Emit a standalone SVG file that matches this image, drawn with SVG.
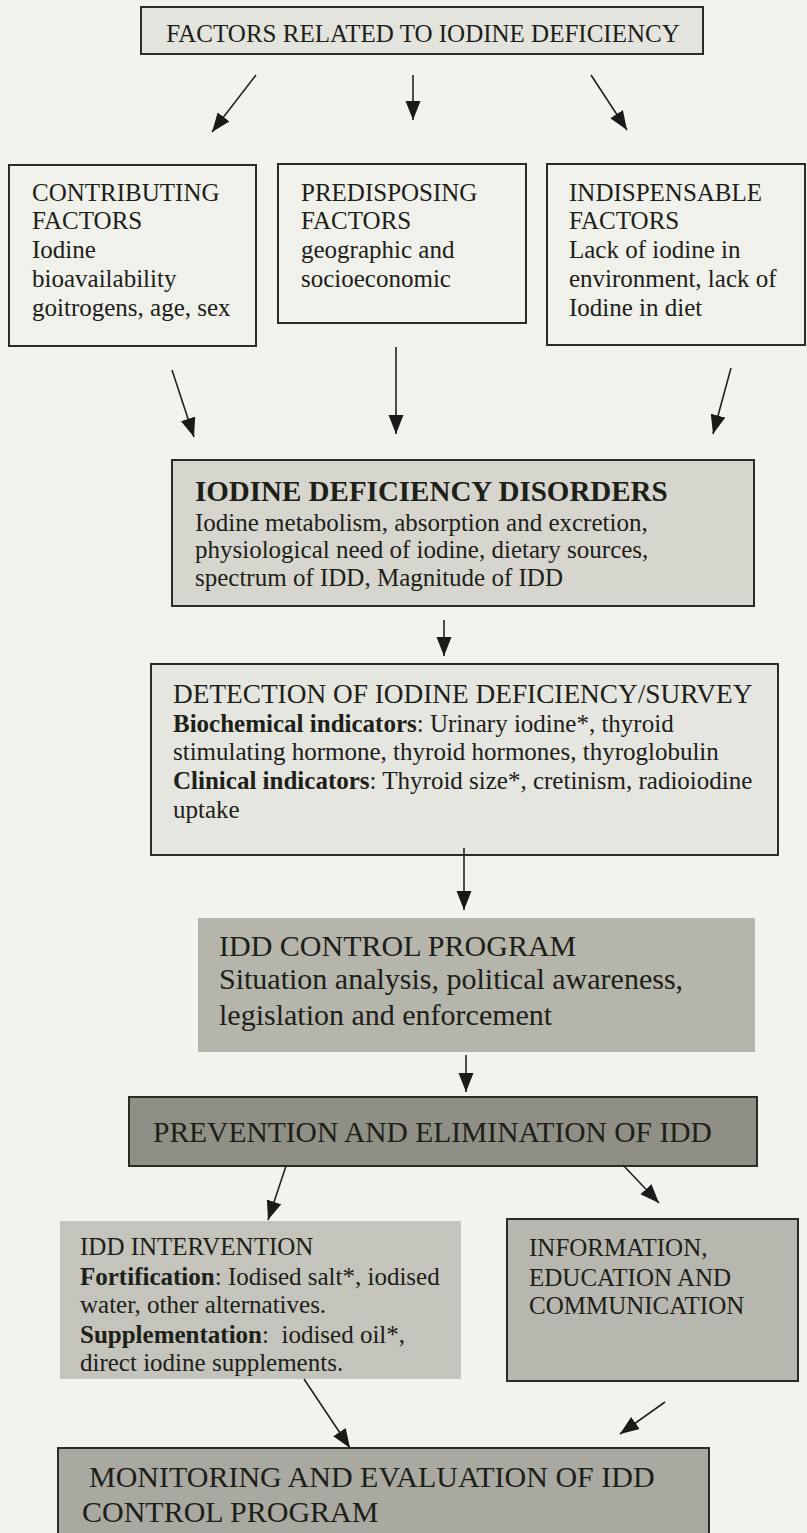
<svg xmlns="http://www.w3.org/2000/svg" width="807" height="1533" viewBox="0 0 807 1533">
<style>
text{font-family:"Liberation Serif","Times New Roman",serif;fill:#1c2018;font-size:25px}
.t30{font-size:30px}
.b{font-weight:bold}
.box{stroke:#2a2c26;stroke-width:2}
.conn line{stroke:#222;stroke-width:1.6;marker-end:url(#ah)}
</style>
<defs>
<marker id="ah" markerUnits="userSpaceOnUse" markerWidth="20" markerHeight="16" refX="19" refY="7.5" orient="auto">
<path d="M0,0 L19,7.5 L0,15 z" fill="#1a1a1a"/>
</marker>
<clipPath id="cl"><rect x="60" y="1221" width="401" height="158"/></clipPath>
</defs>
<rect width="807" height="1533" fill="#f3f3ee"/>

<g id="top">
<rect class="box" x="141" y="7" width="562" height="47" fill="#e4e4de"/>
<text x="423" y="42" text-anchor="middle">FACTORS RELATED TO IODINE DEFICIENCY</text>
</g>

<g id="contributing">
<rect class="box" x="9" y="165" width="247" height="181" fill="#f1f1eb"/>
<text x="32" y="201">CONTRIBUTING</text>
<text x="32" y="229">FACTORS</text>
<text x="32" y="258">Iodine</text>
<text x="32" y="287">bioavailability</text>
<text x="32" y="316">goitrogens, age, sex</text>
</g>

<g id="predisposing">
<rect class="box" x="278" y="164" width="248" height="159" fill="#f1f1eb"/>
<text x="301" y="201">PREDISPOSING</text>
<text x="301" y="229">FACTORS</text>
<text x="301" y="258">geographic and</text>
<text x="301" y="287">socioeconomic</text>
</g>

<g id="indispensable">
<rect class="box" x="547" y="164" width="258" height="181" fill="#f1f1eb"/>
<text x="569" y="201">INDISPENSABLE</text>
<text x="569" y="229">FACTORS</text>
<text x="569" y="258">Lack of iodine in</text>
<text x="569" y="287">environment, lack of</text>
<text x="569" y="316">Iodine in diet</text>
</g>

<g id="idd">
<rect class="box" x="172" y="460" width="582" height="146" fill="#d6d6ce"/>
<text x="195" y="501" class="b" style="font-size:29px">IODINE DEFICIENCY DISORDERS</text>
<text x="195" y="531">Iodine metabolism, absorption and excretion,</text>
<text x="195" y="558">physiological need of iodine, dietary sources,</text>
<text x="195" y="586">spectrum of IDD, Magnitude of IDD</text>
</g>

<g id="detection">
<rect class="box" x="151" y="664" width="627" height="191" fill="#e6e6e0"/>
<text x="173" y="703" style="font-size:27.3px">DETECTION OF IODINE DEFICIENCY/SURVEY</text>
<text x="173" y="732"><tspan class="b">Biochemical indicators</tspan>: Urinary iodine*, thyroid</text>
<text x="173" y="760">stimulating hormone, thyroid hormones, thyroglobulin</text>
<text x="173" y="789"><tspan class="b">Clinical indicators</tspan>: Thyroid size*, cretinism, radioiodine</text>
<text x="173" y="818">uptake</text>
</g>

<g id="control">
<rect x="198" y="918" width="557" height="134" fill="#b5b5ab"/>
<text x="219" y="956" class="t30">IDD CONTROL PROGRAM</text>
<text x="219" y="989" class="t30">Situation analysis, political awareness,</text>
<text x="219" y="1025" class="t30">legislation and enforcement</text>
</g>

<g id="prevention">
<rect class="box" x="129" y="1097" width="628" height="69" fill="#8f8f85"/>
<text x="153" y="1142" style="font-size:29.5px">PREVENTION AND ELIMINATION OF IDD</text>
</g>

<g id="intervention">
<rect x="60" y="1221" width="401" height="158" fill="#c4c4bc"/>
<text x="80" y="1255">IDD INTERVENTION</text>
<text x="80" y="1285"><tspan class="b">Fortification</tspan>: Iodised salt*, iodised</text>
<text x="80" y="1313">water, other alternatives.</text>
<text x="80" y="1343" xml:space="preserve"><tspan class="b">Supplementation</tspan>:  iodised oil*,</text>
<text x="80" y="1371" clip-path="url(#cl)">direct iodine supplements.</text>
</g>

<g id="iec">
<rect class="box" x="507" y="1219" width="291" height="162" fill="#b7b7af"/>
<text x="529" y="1256">INFORMATION,</text>
<text x="529" y="1286">EDUCATION AND</text>
<text x="529" y="1314">COMMUNICATION</text>
</g>

<g id="monitoring">
<rect class="box" x="58" y="1448" width="651" height="100" fill="#a9a9a1"/>
<text x="89" y="1487" class="t30">MONITORING AND EVALUATION OF IDD</text>
<text x="82" y="1522" class="t30">CONTROL PROGRAM</text>
</g>

<g id="connectors" class="conn">
<line x1="256" y1="75" x2="212" y2="132"/>
<line x1="413" y1="75" x2="413" y2="120"/>
<line x1="591" y1="75" x2="627" y2="130"/>
<line x1="172" y1="370" x2="194" y2="437"/>
<line x1="396" y1="347" x2="396" y2="434"/>
<line x1="731" y1="368" x2="713" y2="434"/>
<line x1="444" y1="620" x2="444" y2="656"/>
<line x1="464" y1="848" x2="464" y2="910"/>
<line x1="466" y1="1055" x2="466" y2="1092"/>
<line x1="286" y1="1166" x2="268" y2="1220"/>
<line x1="623" y1="1165" x2="659" y2="1203"/>
<line x1="304" y1="1379" x2="350" y2="1448"/>
<line x1="665" y1="1402" x2="620" y2="1434"/>
</g>
</svg>
